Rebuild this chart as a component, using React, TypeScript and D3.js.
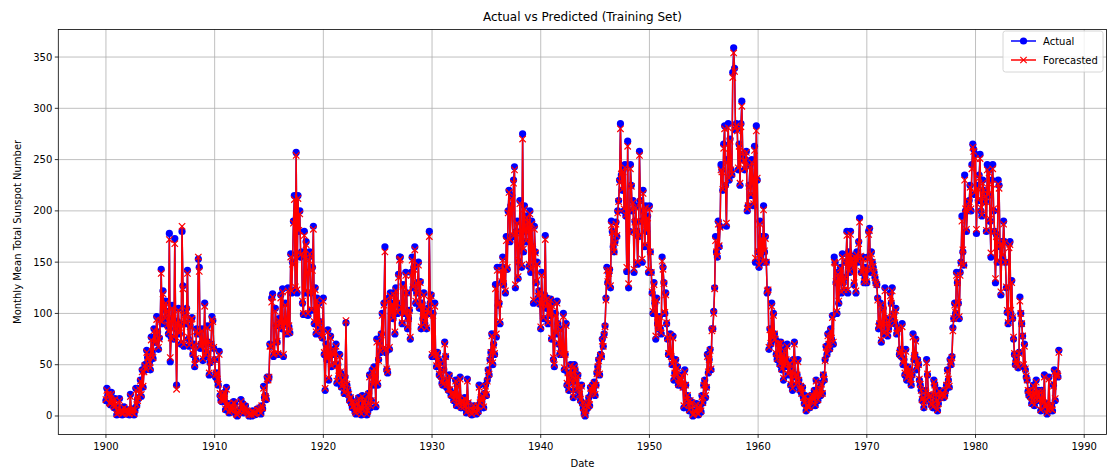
import React from 'react';
import * as d3 from 'd3';

const START_YEAR = 1900;

const actual: number[] = [
  15, 27, 20, 22, 12, 11, 23, 14, 10, 8, 17, 9, // 1900
  1, 4, 2, 17, 3, 6, 1, 2, 9, 3, 5, 2,
  6, 2, 1, 21, 4, 2, 7, 1, 5, 27, 10, 16,
  18, 27, 35, 19, 45, 28, 44, 50, 45, 64, 57, 58,
  52, 45, 77, 62, 56, 85, 72, 72, 97, 82, 65, 76,
  95, 143, 90, 122, 108, 95, 112, 102, 88, 80, 178, 53, // 1905
  77, 108, 95, 75, 173, 85, 30, 92, 105, 80, 90, 70,
  180, 127, 68, 100, 90, 105, 142, 75, 68, 88, 95, 96,
  60, 70, 48, 55, 85, 80, 153, 145, 66, 70, 85, 54,
  70, 110, 58, 62, 88, 72, 40, 52, 70, 97, 93, 66,
  55, 38, 42, 35, 30, 63, 20, 15, 14, 22, 14, 23, // 1910
  6, 28, 8, 12, 3, 5, 10, 4, 7, 14, 12, 5,
  1, 0, 2, 5, 4, 16, 8, 12, 3, 6, 10, 5,
  4, 3, 0, 1, 1, 0, 5, 2, 1, 3, 2, 7,
  4, 6, 8, 2, 10, 7, 29, 18, 20, 16, 38, 35,
  38, 70, 68, 115, 119, 58, 60, 105, 88, 72, 60, 95, // 1915
  90, 118, 85, 124, 58, 92, 110, 90, 80, 125, 87, 81,
  158, 120, 150, 190, 215, 123, 257, 120, 215, 180, 200, 155,
  160, 110, 99, 180, 120, 170, 140, 98, 155, 160, 120, 103,
  145, 185, 90, 125, 80, 115, 88, 110, 92, 85, 78, 76,
  115, 60, 25, 70, 55, 84, 35, 62, 78, 48, 60, 60, // 1920
  65, 50, 70, 32, 50, 38, 60, 42, 28, 35, 30, 22,
  38, 91, 30, 25, 20, 15, 18, 12, 8, 14, 10, 4,
  2, 5, 12, 18, 3, 8, 1, 20, 6, 14, 17, 10,
  1, 4, 22, 40, 8, 15, 45, 30, 48, 38, 9, 75,
  30, 55, 72, 62, 80, 100, 65, 110, 165, 62, 45, 42, // 1925
  115, 65, 120, 100, 110, 95, 120, 80, 125, 110, 100, 138,
  155, 155, 105, 90, 128, 100, 100, 140, 120, 85, 95, 103,
  75, 140, 155, 125, 145, 165, 110, 120, 130, 150, 105, 131,
  85, 110, 95, 120, 90, 100, 85, 105, 100, 180, 110, 118,
  58, 100, 60, 110, 58, 48, 62, 55, 40, 52, 38, 32, // 1930
  30, 45, 72, 58, 28, 35, 25, 40, 25, 20, 22, 21,
  15, 20, 35, 10, 30, 18, 12, 38, 8, 15, 14, 8,
  18, 10, 3, 36, 12, 5, 4, 2, 1, 6, 10, 3,
  5, 2, 10, 4, 30, 12, 18, 14, 20, 8, 22, 30,
  20, 35, 45, 40, 55, 62, 80, 50, 70, 60, 128, 77, // 1935
  145, 108, 110, 90, 145, 130, 155, 128, 145, 120, 175, 143,
  200, 220, 170, 205, 215, 175, 230, 243, 125, 180, 190, 134,
  150, 210, 165, 145, 275, 160, 205, 180, 170, 195, 190, 146,
  200, 140, 190, 165, 110, 185, 160, 130, 150, 115, 122, 109,
  85, 140, 110, 95, 118, 176, 105, 115, 90, 110, 98, 114, // 1940
  75, 110, 55, 48, 100, 80, 112, 90, 70, 60, 85, 65,
  60, 100, 45, 60, 90, 30, 42, 25, 35, 50, 40, 33,
  18, 50, 45, 35, 25, 40, 28, 20, 15, 30, 12, 7,
  2, 0, 5, 12, 8, 18, 10, 28, 22, 30, 25, 33,
  20, 30, 42, 48, 55, 40, 60, 58, 75, 68, 80, 88, // 1945
  115, 145, 130, 140, 143, 125, 190, 180, 165, 160, 170, 189,
  175, 200, 210, 230, 285, 235, 220, 240, 200, 245, 195, 141,
  268, 125, 180, 245, 225, 200, 210, 140, 190, 205, 180, 148,
  175, 258, 210, 190, 150, 220, 200, 165, 205, 180, 195, 140,
  205, 160, 140, 120, 100, 130, 110, 75, 115, 90, 85, 97, // 1950
  85, 80, 155, 145, 130, 100, 120, 90, 75, 60, 60, 80,
  58, 50, 78, 35, 42, 55, 40, 48, 30, 35, 38, 31,
  40, 28, 8, 45, 30, 15, 20, 10, 5, 15, 12, 13,
  0, 1, 5, 3, 12, 2, 1, 8, 10, 4, 20, 13,
  30, 35, 18, 28, 60, 42, 55, 65, 45, 85, 85, 102, // 1955
  125, 175, 160, 155, 190, 165, 185, 245, 240, 220, 265, 283,
  225, 185, 250, 285, 230, 270, 240, 235, 335, 359, 339, 279,
  285, 280, 240, 265, 225, 285, 307, 255, 250, 240, 250, 258,
  200, 205, 225, 245, 215, 250, 230, 205, 263, 150, 283, 230,
  160, 145, 190, 155, 175, 150, 205, 160, 175, 150, 120, 123, // 1960
  65, 85, 70, 110, 75, 100, 80, 75, 60, 55, 72, 70,
  50, 72, 45, 60, 35, 65, 48, 55, 70, 40, 50, 51,
  30, 45, 25, 55, 72, 38, 30, 40, 55, 35, 25, 29,
  22, 28, 18, 12, 20, 5, 10, 8, 15, 8, 20, 14,
  20, 15, 25, 10, 35, 20, 15, 22, 28, 20, 32, 22, // 1965
  40, 35, 55, 68, 60, 80, 70, 65, 85, 75, 98, 70,
  155, 150, 130, 100, 140, 110, 135, 145, 120, 158, 130, 122,
  135, 150, 180, 120, 160, 140, 180, 145, 155, 150, 128, 157,
  120, 160, 150, 170, 193, 155, 140, 140, 155, 130, 135, 145,
  130, 155, 180, 183, 140, 160, 150, 145, 140, 135, 130, 128, // 1970
  115, 85, 90, 110, 72, 88, 105, 80, 125, 95, 90, 78,
  85, 90, 120, 110, 125, 95, 100, 90, 105, 80, 85, 86,
  60, 65, 58, 90, 50, 55, 40, 65, 35, 48, 38, 45,
  35, 30, 40, 80, 55, 60, 75, 45, 55, 50, 35, 30,
  25, 15, 18, 8, 15, 25, 55, 40, 20, 18, 20, 11, // 1975
  10, 8, 35, 30, 20, 15, 5, 12, 25, 18, 20, 23,
  22, 18, 20, 25, 30, 45, 35, 28, 55, 50, 58, 86,
  95, 110, 100, 140, 130, 110, 95, 140, 150, 195, 160, 147,
  235, 200, 180, 200, 205, 210, 225, 200, 245, 265, 260, 216,
  255, 178, 225, 210, 235, 255, 200, 195, 230, 220, 215, 209, // 1980
  180, 245, 215, 240, 190, 155, 230, 245, 200, 180, 130, 177,
  150, 230, 225, 165, 118, 170, 155, 190, 170, 150, 125, 101,
  90, 168, 170, 100, 132, 95, 75, 60, 50, 55, 50, 47,
  62, 116, 100, 90, 78, 48, 70, 45, 38, 35, 24, 20,
  25, 18, 12, 20, 30, 10, 22, 35, 15, 20, 25, 15, // 1985
  5, 25, 15, 12, 40, 8, 12, 2, 5, 38, 10, 6,
  10, 5, 30, 45, 15, 40, 42, 38, 64,
];

const forecasted: number[] = [
  16, 25, 21, 21, 13, 12, 21, 15, 11, 9, 16, 10, // 1900
  2, 5, 3, 15, 4, 6, 2, 3, 8, 4, 6, 3,
  6, 3, 2, 19, 5, 3, 7, 2, 6, 25, 11, 15,
  18, 26, 34, 21, 43, 29, 43, 49, 46, 62, 57, 57,
  53, 47, 74, 63, 57, 83, 72, 73, 94, 82, 67, 75,
  93, 139, 92, 119, 107, 96, 110, 102, 89, 82, 172, 57, // 1905
  76, 105, 95, 77, 168, 86, 26, 90, 103, 81, 89, 72,
  185, 124, 70, 98, 91, 103, 139, 77, 69, 87, 94, 95,
  61, 69, 50, 56, 83, 80, 155, 141, 68, 70, 83, 56,
  70, 107, 60, 63, 86, 72, 42, 53, 70, 94, 92, 67,
  55, 40, 42, 36, 31, 60, 22, 16, 15, 21, 15, 22, // 1910
  7, 26, 9, 12, 4, 6, 10, 5, 7, 13, 12, 6,
  2, 1, 3, 5, 5, 14, 8, 11, 4, 6, 9, 5,
  4, 3, 1, 2, 2, 1, 5, 3, 2, 3, 3, 6,
  5, 6, 8, 3, 10, 8, 27, 18, 19, 17, 36, 35,
  38, 68, 68, 111, 116, 60, 61, 102, 88, 73, 61, 93, // 1915
  90, 115, 86, 121, 60, 91, 108, 90, 81, 122, 88, 82,
  155, 122, 148, 188, 211, 126, 254, 123, 212, 181, 197, 157,
  158, 112, 100, 176, 122, 167, 140, 100, 152, 158, 121, 104,
  142, 182, 92, 123, 82, 113, 89, 108, 92, 86, 79, 77,
  112, 62, 27, 68, 56, 82, 37, 61, 76, 49, 60, 60, // 1920
  64, 51, 68, 34, 49, 39, 58, 43, 29, 35, 30, 23,
  37, 93, 31, 25, 21, 16, 18, 13, 9, 14, 10, 5,
  3, 6, 12, 17, 4, 8, 2, 19, 7, 14, 16, 10,
  2, 5, 21, 38, 10, 15, 43, 31, 46, 38, 11, 72,
  32, 54, 71, 63, 79, 98, 66, 108, 160, 65, 46, 43, // 1925
  112, 67, 117, 100, 109, 96, 118, 82, 122, 110, 101, 135,
  152, 153, 106, 91, 126, 101, 100, 137, 120, 87, 95, 103,
  77, 137, 152, 126, 143, 162, 112, 120, 129, 147, 107, 130,
  87, 108, 96, 118, 91, 99, 86, 104, 100, 175, 112, 117,
  60, 98, 61, 107, 59, 49, 61, 55, 41, 51, 39, 33, // 1930
  31, 44, 70, 58, 30, 35, 26, 39, 26, 21, 22, 21,
  16, 20, 34, 11, 29, 18, 13, 36, 9, 15, 14, 9,
  17, 10, 4, 34, 13, 6, 5, 3, 2, 6, 10, 4,
  5, 3, 10, 5, 28, 13, 18, 15, 19, 9, 21, 29,
  21, 34, 44, 41, 54, 62, 78, 52, 69, 61, 124, 80, // 1935
  142, 110, 109, 92, 142, 131, 152, 129, 143, 122, 171, 145,
  198, 218, 172, 203, 212, 177, 227, 240, 128, 178, 188, 136,
  152, 207, 166, 147, 270, 163, 202, 181, 171, 193, 189, 148,
  197, 143, 187, 165, 113, 182, 159, 131, 148, 117, 121, 110,
  87, 137, 110, 96, 117, 172, 107, 114, 91, 109, 98, 113, // 1940
  76, 107, 57, 50, 98, 81, 110, 90, 71, 61, 84, 66,
  60, 97, 47, 60, 88, 32, 42, 26, 35, 49, 40, 33,
  19, 48, 45, 35, 26, 39, 28, 21, 16, 29, 13, 8,
  3, 1, 5, 11, 9, 17, 11, 27, 22, 29, 25, 32,
  21, 30, 41, 48, 54, 41, 59, 58, 73, 68, 79, 87, // 1945
  113, 142, 131, 139, 142, 127, 186, 179, 165, 160, 169, 187,
  176, 198, 209, 228, 280, 236, 221, 238, 202, 242, 196, 145,
  263, 129, 179, 241, 224, 201, 208, 143, 189, 203, 180, 150,
  176, 254, 209, 190, 153, 217, 200, 167, 203, 181, 193, 143,
  202, 160, 140, 121, 102, 128, 110, 78, 113, 91, 86, 97, // 1950
  86, 81, 151, 143, 129, 101, 118, 91, 76, 61, 61, 79,
  58, 51, 76, 37, 42, 54, 41, 47, 31, 35, 37, 31,
  39, 28, 10, 43, 30, 16, 20, 11, 6, 15, 12, 13,
  1, 2, 5, 4, 11, 3, 2, 8, 10, 5, 19, 13,
  30, 34, 20, 28, 58, 43, 55, 64, 46, 83, 85, 100, // 1955
  124, 171, 160, 156, 187, 166, 184, 240, 238, 221, 261, 280,
  226, 188, 247, 281, 232, 268, 240, 236, 330, 354, 336, 281,
  283, 278, 242, 263, 227, 282, 302, 256, 249, 241, 249, 257,
  202, 205, 224, 243, 216, 247, 229, 207, 259, 154, 278, 232,
  161, 147, 187, 156, 173, 151, 201, 161, 173, 150, 122, 123, // 1960
  67, 84, 71, 107, 76, 98, 80, 75, 61, 56, 71, 70,
  51, 71, 46, 59, 37, 63, 49, 55, 68, 41, 50, 51,
  31, 44, 27, 54, 70, 39, 31, 40, 53, 35, 26, 29,
  22, 27, 18, 13, 19, 6, 10, 9, 15, 9, 19, 14,
  20, 16, 24, 11, 34, 21, 16, 22, 27, 21, 31, 22, // 1965
  40, 36, 54, 67, 61, 78, 70, 66, 83, 76, 96, 72,
  150, 149, 131, 102, 138, 112, 134, 144, 121, 155, 131, 123,
  135, 149, 176, 123, 158, 141, 177, 146, 154, 150, 130, 155,
  122, 157, 151, 168, 189, 156, 141, 140, 153, 131, 135, 144,
  131, 153, 177, 181, 142, 158, 150, 146, 140, 135, 130, 128, // 1970
  113, 87, 90, 108, 74, 88, 103, 81, 122, 96, 90, 79,
  85, 90, 117, 110, 122, 97, 99, 91, 103, 81, 85, 86,
  61, 64, 59, 87, 52, 55, 42, 63, 37, 48, 39, 45,
  36, 31, 40, 77, 56, 59, 73, 47, 54, 50, 36, 31,
  25, 16, 18, 9, 15, 24, 52, 41, 21, 18, 20, 12, // 1975
  11, 9, 33, 30, 21, 15, 6, 12, 24, 18, 20, 22,
  22, 19, 20, 25, 30, 44, 36, 29, 53, 51, 57, 83,
  95, 108, 101, 137, 130, 111, 97, 137, 149, 190, 162, 147,
  230, 202, 182, 200, 204, 209, 223, 202, 241, 262, 258, 218,
  251, 182, 222, 211, 232, 251, 203, 196, 227, 220, 214, 209, // 1980
  181, 240, 216, 237, 192, 159, 226, 241, 202, 180, 134, 175,
  151, 226, 222, 167, 121, 167, 157, 187, 169, 150, 126, 103,
  91, 164, 167, 103, 130, 96, 77, 61, 51, 55, 50, 48,
  61, 112, 100, 90, 78, 50, 68, 46, 39, 35, 25, 21,
  25, 19, 13, 20, 29, 11, 22, 33, 16, 20, 24, 16, // 1985
  6, 24, 15, 13, 38, 9, 12, 3, 6, 36, 11, 7,
  10, 6, 29, 43, 17, 39, 41, 39, 62,
];

const xTickYears = [1900, 1910, 1920, 1930, 1940, 1950, 1960, 1970, 1980, 1990];
const yTickValues = [0, 50, 100, 150, 200, 250, 300, 350];
const seriesNames = ['Actual', 'Forecasted'];

const FONT = '"DejaVu Sans", Verdana, sans-serif';

export default function App() {
  const W = 1107;
  const H = 471;
  const left = 58.3;
  const right = 1106.5;
  const top = 29.4;
  const bottom = 434.4;

  const n = Math.min(actual.length, forecasted.length);
  const dates = d3.range(n).map((i) => START_YEAR + i / 12);
  const xMin = d3.min(dates) as number;
  const xMax = d3.max(dates) as number;
  const xPad = (xMax - xMin) * 0.05;
  const x = d3.scaleLinear().domain([xMin - xPad, xMax + xPad]).range([left, right]);

  const all = actual.slice(0, n).concat(forecasted.slice(0, n));
  const yMin = d3.min(all) as number;
  const yMax = d3.max(all) as number;
  const yPad = (yMax - yMin) * 0.05;
  const y = d3.scaleLinear().domain([yMin - yPad, yMax + yPad]).range([bottom, top]);

  const line = d3
    .line<number>()
    .x((_, i) => x(dates[i]))
    .y((d) => y(d));

  const actualPath = line(actual.slice(0, n)) || '';
  const forecastPath = line(forecasted.slice(0, n)) || '';

  const gridColor = '#b0b0b0';
  const blue = '#0000ff';
  const red = '#ff0000';
  const mk = 3.2;

  const legX = 1003;
  const legY = 31;

  return (
    <svg
      width={W}
      height={H}
      style={{ position: 'absolute', left: 0, top: 0, background: '#fff' }}
      fontFamily={FONT}
    >
      <rect x={0} y={0} width={W} height={H} fill="#fff" />
      <text x={(left + right) / 2} y={21} textAnchor="middle" fontSize={12} fill="#000">
        Actual vs Predicted (Training Set)
      </text>
      {xTickYears.map((t) => (
        <line key={'gx' + t} x1={x(t)} x2={x(t)} y1={top} y2={bottom} stroke={gridColor} strokeWidth={0.8} />
      ))}
      {yTickValues.map((t) => (
        <line key={'gy' + t} x1={left} x2={right} y1={y(t)} y2={y(t)} stroke={gridColor} strokeWidth={0.8} />
      ))}
      <defs>
        <clipPath id="plotclip">
          <rect x={left} y={top} width={right - left} height={bottom - top} />
        </clipPath>
      </defs>
      <g clipPath="url(#plotclip)">
        <path d={actualPath} fill="none" stroke={blue} strokeWidth={1.5} strokeLinejoin="round" />
        {actual.slice(0, n).map((v, i) => (
          <circle key={'a' + i} cx={x(dates[i])} cy={y(v)} r={3.6} fill={blue} />
        ))}
        <path d={forecastPath} fill="none" stroke={red} strokeWidth={1.5} strokeLinejoin="round" />
        {forecasted.slice(0, n).map((v, i) => {
          const cx = x(dates[i]);
          const cy = y(v);
          return (
            <path
              key={'f' + i}
              d={`M${cx - mk},${cy - mk}L${cx + mk},${cy + mk}M${cx - mk},${cy + mk}L${cx + mk},${cy - mk}`}
              stroke={red}
              strokeWidth={1.2}
              fill="none"
            />
          );
        })}
      </g>
      <rect x={left} y={top} width={right - left} height={bottom - top} fill="none" stroke="#000" strokeWidth={0.8} />
      {xTickYears.map((t) => (
        <g key={'xt' + t}>
          <line x1={x(t)} x2={x(t)} y1={bottom} y2={bottom + 3.5} stroke="#000" strokeWidth={0.8} />
          <text x={x(t)} y={bottom + 16} textAnchor="middle" fontSize={10} fill="#000">
            {t}
          </text>
        </g>
      ))}
      {yTickValues.map((t) => (
        <g key={'yt' + t}>
          <line x1={left - 3.5} x2={left} y1={y(t)} y2={y(t)} stroke="#000" strokeWidth={0.8} />
          <text x={left - 6} y={y(t)} dy="0.35em" textAnchor="end" fontSize={10} fill="#000">
            {t}
          </text>
        </g>
      ))}
      <text x={(left + right) / 2} y={467} textAnchor="middle" fontSize={10} fill="#000">
        Date
      </text>
      <text
        transform={`translate(21, ${(top + bottom) / 2}) rotate(-90)`}
        textAnchor="middle"
        fontSize={10}
        fill="#000"
      >
        Monthly Mean Total Sunspot Number
      </text>
      <rect x={legX} y={legY} width={100} height={41} rx={2.5} fill="#fff" fillOpacity={0.8} stroke="#cccccc" strokeWidth={0.8} />
      <line x1={legX + 8} x2={legX + 33} y1={legY + 10} y2={legY + 10} stroke={blue} strokeWidth={1.5} />
      <circle cx={legX + 20.5} cy={legY + 10} r={3.6} fill={blue} />
      <text x={legX + 40} y={legY + 10} dy="0.35em" fontSize={10} fill="#000">
        {seriesNames[0]}
      </text>
      <line x1={legX + 8} x2={legX + 33} y1={legY + 29} y2={legY + 29} stroke={red} strokeWidth={1.5} />
      <path
        d={`M${legX + 20.5 - mk},${legY + 29 - mk}L${legX + 20.5 + mk},${legY + 29 + mk}M${legX + 20.5 - mk},${legY + 29 + mk}L${legX + 20.5 + mk},${legY + 29 - mk}`}
        stroke={red}
        strokeWidth={1.2}
      />
      <text x={legX + 40} y={legY + 29} dy="0.35em" fontSize={10} fill="#000">
        {seriesNames[1]}
      </text>
    </svg>
  );
}
